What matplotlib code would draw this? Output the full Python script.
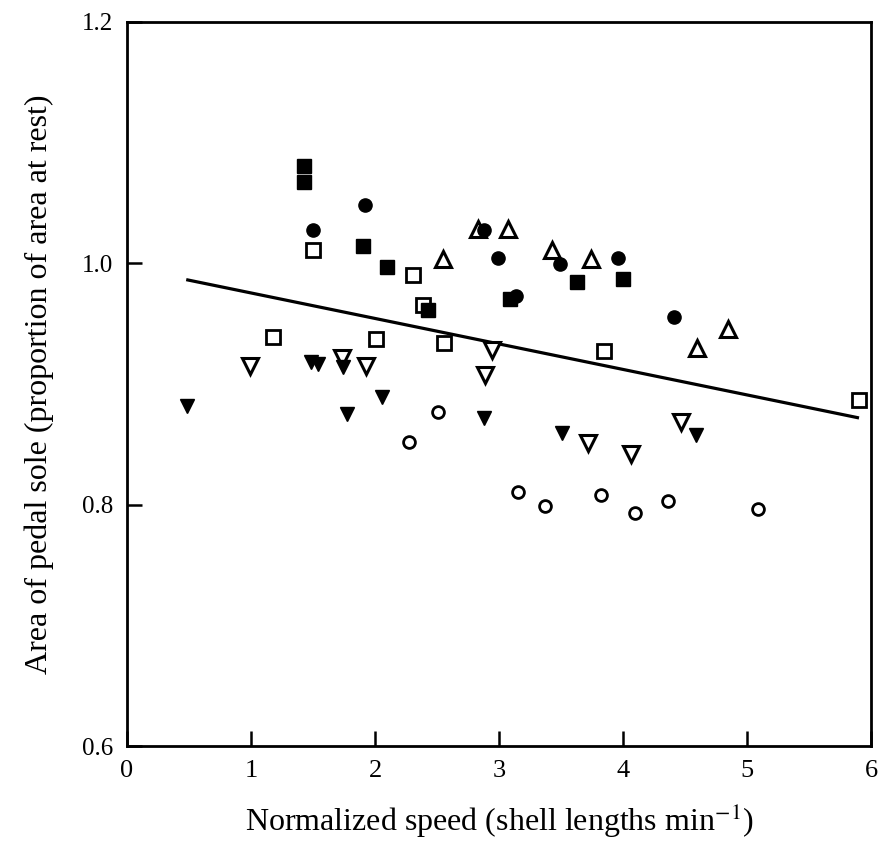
import matplotlib
matplotlib.use("Agg")
import matplotlib.pyplot as plt

# values
sq_filled_x = [1.43, 1.43, 1.90, 2.10, 2.43, 3.09, 3.63, 4.00]
sq_filled_y = [1.080, 1.067, 1.014, 0.997, 0.961, 0.970, 0.984, 0.987]
sq_open_x = [1.50, 1.18, 2.01, 2.31, 2.39, 2.56, 3.85, 5.90]
sq_open_y = [1.011, 0.939, 0.937, 0.990, 0.965, 0.934, 0.927, 0.887]
ci_filled_x = [1.50, 1.92, 2.88, 2.99, 3.14, 3.49, 3.96, 4.41]
ci_filled_y = [1.027, 1.048, 1.027, 1.004, 0.973, 0.999, 1.004, 0.955]
ci_open_x = [2.27, 2.51, 3.15, 3.37, 3.82, 4.10, 4.36, 5.09]
ci_open_y = [0.852, 0.877, 0.810, 0.799, 0.808, 0.793, 0.803, 0.796]
tri_open_x = [2.55, 2.83, 3.07, 3.43, 3.74, 4.60, 4.85]
tri_open_y = [1.003, 1.028, 1.028, 1.011, 1.003, 0.930, 0.945]
inv_filled_x = [0.48, 1.48, 1.54, 1.74, 1.77, 2.06, 2.88, 3.51, 4.59]
inv_filled_y = [0.882, 0.918, 0.916, 0.914, 0.875, 0.889, 0.872, 0.859, 0.858]
inv_open_x = [0.99, 1.73, 1.93, 2.89, 2.94, 3.72, 4.06, 4.47]
inv_open_y = [0.915, 0.921, 0.915, 0.907, 0.928, 0.851, 0.842, 0.868]

# regression line end points
line_x = [0.49, 5.89]
line_y = [0.986, 0.872]

plt.rcParams['font.family'] = ['Liberation Serif', 'DejaVu Serif']
plt.rcParams['mathtext.fontset'] = 'stix'

fig = plt.figure(figsize=(8.79, 8.44), dpi=100)
ax = fig.add_axes([0.1445, 0.116, 0.8465, 0.8585])

ax.plot(line_x, line_y, color='black', lw=2.3, zorder=2)

# open symbols first, filled on top
ax.plot(sq_open_x, sq_open_y, 's', ms=10.5, mfc='white', mec='black', mew=2.0, ls='none', zorder=3)
ax.plot(tri_open_x, tri_open_y, '^', ms=11, mfc='white', mec='black', mew=2.2, ls='none', zorder=3)
ax.plot(inv_open_x, inv_open_y, 'v', ms=11, mfc='white', mec='black', mew=2.2, ls='none', zorder=3)
ax.plot(ci_open_x, ci_open_y, 'o', ms=8.5, mfc='white', mec='black', mew=2.0, ls='none', zorder=3)
ax.plot(sq_filled_x, sq_filled_y, 's', ms=10, color='black', ls='none', zorder=4)
ax.plot(ci_filled_x, ci_filled_y, 'o', ms=9.5, color='black', ls='none', zorder=4)
ax.plot(inv_filled_x, inv_filled_y, 'v', ms=10, color='black', ls='none', zorder=4)

ax.set_xlim(0, 6)
ax.set_ylim(0.6, 1.2)
ax.set_xticks([0, 1, 2, 3, 4, 5, 6])
ax.set_yticks([0.6, 0.8, 1.0, 1.2])
ax.set_yticklabels(['0.6', '0.8', '1.0', '1.2'])
ax.tick_params(direction='in', length=11, width=1.8)
ax.tick_params(axis='x', labelsize=19, pad=10)
ax.tick_params(axis='y', labelsize=18, pad=10)
for s in ax.spines.values():
    s.set_linewidth(2)

ax.set_xlabel('Normalized speed (shell lengths min$^{-1}$)', fontsize=23, labelpad=14)
ax.set_ylabel('Area of pedal sole (proportion of area at rest)', fontsize=23, labelpad=20)

fig.savefig('out.png', dpi=100)
